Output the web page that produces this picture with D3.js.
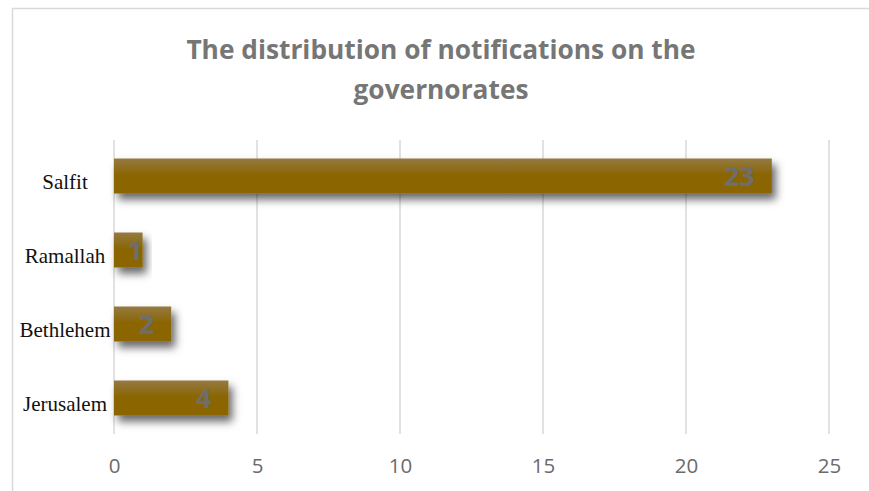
<!DOCTYPE html>
<html><head><meta charset="utf-8">
<script src="https://cdn.jsdelivr.net/npm/d3@7"></script>
<style>body{margin:0;background:#fff}svg{display:block}</style>
</head><body>
<svg id="c" width="869" height="491"></svg>
<script>
const categories = ["Salfit", "Ramallah", "Bethlehem", "Jerusalem"];
const values = [23, 1, 2, 4];
const xTicks = [0, 5, 10, 15, 20, 25];
const titleLines = ["The distribution of notifications on the", "governorates"];

const svg = d3.select("#c");
const W = 869, H = 491;
const m = {left: 114, right: 40, top: 140, bottom: 57};

// frame
svg.append("rect").attr("x", 12.5).attr("y", 8.5).attr("width", W + 20).attr("height", H + 20)
  .attr("fill", "#fff").attr("stroke", "#d9d9d9").attr("stroke-width", 1.5);

const defs = svg.append("defs");
const grad = defs.append("linearGradient").attr("id", "bg").attr("x1", 0).attr("y1", 0).attr("x2", 0).attr("y2", 1);
grad.append("stop").attr("offset", "0%").attr("stop-color", "#947a44");
grad.append("stop").attr("offset", "45%").attr("stop-color", "#8b6602");
grad.append("stop").attr("offset", "100%").attr("stop-color", "#8a6500");
const f = defs.append("filter").attr("id", "sh").attr("x", "-20%").attr("y", "-40%").attr("width", "150%").attr("height", "220%");
f.append("feDropShadow").attr("dx", 4).attr("dy", 6).attr("stdDeviation", 4.5)
  .attr("flood-color", "#000").attr("flood-opacity", 0.6);

const x = d3.scaleLinear().domain([0, 25]).range([m.left, W - m.right]);
const y = d3.scaleBand().domain(categories).range([m.top, H - m.bottom]).paddingInner(0.527).paddingOuter(0.25);

// gridlines
svg.append("g").selectAll("line").data(xTicks).join("line")
  .attr("x1", d => x(d)).attr("x2", d => x(d))
  .attr("y1", m.top).attr("y2", H - m.bottom)
  .attr("stroke", "#d9d9d9").attr("stroke-width", 1.5);

// x axis labels
const xa = d3.axisBottom(x).tickValues(xTicks).tickSize(0).tickPadding(0);
const gx = svg.append("g").attr("transform", `translate(0,${H - m.bottom})`).call(xa);
gx.select(".domain").remove();
gx.selectAll("text").attr("font-family", "'Open Sans', sans-serif").attr("font-size", 20.5)
  .attr("fill", "#6b6b6b").attr("dy", null).attr("y", 39);

// bars
const data = categories.map((c, i) => ({c, v: values[i]}));
svg.append("g").selectAll("rect").data(data).join("rect")
  .attr("x", x(0)).attr("y", d => y(d.c))
  .attr("width", d => x(d.v) - x(0)).attr("height", y.bandwidth())
  .attr("fill", "url(#bg)").attr("filter", "url(#sh)");

// category labels
svg.append("g").selectAll("text").data(categories).join("text")
  .attr("x", 65).attr("y", d => y(d) + y.bandwidth() / 2 + 13)
  .attr("text-anchor", "middle").attr("font-family", "'Liberation Serif', serif")
  .attr("font-size", 21).attr("fill", "#111").text(d => d);

// value labels
svg.append("g").selectAll("text").data(data).join("text")
  .attr("x", d => Math.max(x(d.v) - 17, x(0) + 29))
  .attr("y", d => y(d.c) + y.bandwidth() / 2 + 10)
  .attr("text-anchor", "end").attr("font-family", "'Open Sans', sans-serif").attr("font-weight", "bold")
  .attr("font-size", 27).attr("fill", "#6e6e6e").text(d => d.v);

// title
const tg = svg.append("g");
tg.selectAll("text").data(titleLines).join("text")
  .attr("x", 441).attr("y", (d, i) => 59 + i * 40)
  .attr("text-anchor", "middle").attr("font-family", "'Open Sans', sans-serif").attr("font-weight", "bold")
  .attr("font-size", 26.3).attr("fill", "#767676").text(d => d);
</script>
</body></html>
